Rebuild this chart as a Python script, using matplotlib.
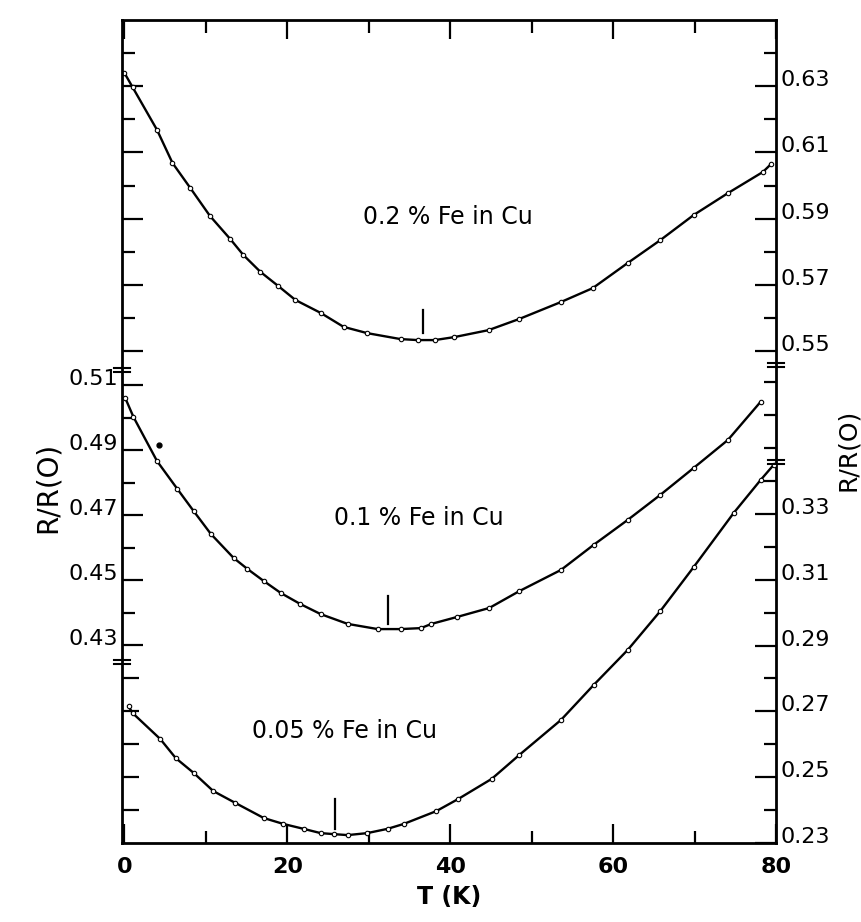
import matplotlib
matplotlib.use("Agg")
import matplotlib.pyplot as plt

# values: T in K, R/R(0) on each curve's own scale
t_02 = [0.0, 1.0, 4.0, 5.9, 8.1, 10.5, 13.0, 14.6, 16.7, 18.9, 21.0, 24.1, 26.9, 29.8,
        33.9, 36.0, 38.1, 40.5, 44.7, 48.5, 53.6, 57.5, 61.8, 65.8, 69.9, 74.1, 78.4, 79.4]
r_02 = [0.634, 0.6297, 0.6168, 0.6068, 0.5992, 0.5908, 0.5838, 0.579, 0.5739, 0.5696,
        0.5654, 0.5615, 0.5573, 0.5554, 0.5536, 0.5533, 0.5533, 0.5542, 0.5563, 0.5597,
        0.5648, 0.569, 0.5766, 0.5835, 0.5911, 0.5977, 0.6041, 0.6065]

t_01 = [0.1, 1.1, 4.0, 6.5, 8.5, 10.6, 13.4, 15.1, 17.1, 19.2, 21.6, 24.1, 27.4, 31.1,
        33.9, 36.4, 37.7, 40.8, 44.8, 48.5, 53.6, 57.6, 61.8, 65.8, 69.9, 74.1, 78.1]
r_01 = [0.506, 0.5002, 0.4866, 0.478, 0.4712, 0.4642, 0.4568, 0.4534, 0.4497, 0.446,
        0.4426, 0.4395, 0.4365, 0.4349, 0.4349, 0.4352, 0.4365, 0.4386, 0.4414, 0.4466,
        0.4531, 0.4608, 0.4685, 0.4762, 0.4845, 0.4931, 0.5048]
t_01_stray = [4.3]
r_01_stray = [0.4915]

t_005 = [0.5, 1.0, 4.4, 6.3, 8.5, 10.9, 13.6, 17.1, 19.5, 22.0, 24.1, 25.7, 27.4, 29.8,
         32.3, 34.3, 38.3, 41.0, 45.1, 48.5, 53.6, 57.6, 61.8, 65.8, 69.9, 74.8, 78.1, 79.7]
r_005 = [0.2716, 0.2695, 0.2616, 0.2558, 0.2513, 0.2458, 0.2422, 0.2376, 0.2358, 0.2343,
         0.233, 0.2327, 0.2324, 0.233, 0.2343, 0.2358, 0.2397, 0.2434, 0.2495, 0.2568,
         0.2674, 0.278, 0.2887, 0.3005, 0.3139, 0.3303, 0.3403, 0.3449]

# small vertical marks at the minima: T, low, high
min_02 = (36.7, 0.5554, 0.5624)
min_01 = (32.3, 0.4365, 0.4451)
min_005 = (25.9, 0.2343, 0.2434)

labels = ["0.2 % Fe in Cu", "0.1 % Fe in Cu", "0.05 % Fe in Cu"]

# axis ticks per scale
top_major = [0.55, 0.57, 0.59, 0.61, 0.63]
top_minor = [0.56, 0.58, 0.60, 0.62, 0.64]
mid_major = [0.43, 0.45, 0.47, 0.49, 0.51]
mid_minor = [0.44, 0.46, 0.48, 0.50]
bot_major = [0.23, 0.25, 0.27, 0.29, 0.31, 0.33]
bot_minor = [0.24, 0.26, 0.28, 0.30, 0.32, 0.34, 0.35, 0.36, 0.37]
bot_left = [0.24, 0.25, 0.26, 0.27, 0.28]

# axis breaks (scale values)
brk_mid = [0.5146, 0.4248]
brk_top = [0.5458]
brk_bot = [0.3458]

fig = plt.figure(figsize=(8.62, 9.22), dpi=100)
rect = [122 / 862, 79 / 922, 654 / 862, 823 / 922]
ax = fig.add_axes(rect)
ax_mid = fig.add_axes(rect)
ax_bot = fig.add_axes(rect)

for a in (ax, ax_mid, ax_bot):
    a.set_xlim(-0.3, 80)
ax.set_ylim(0.40136, 0.65)
ax_mid.set_ylim(0.36908, 0.62231)
ax_bot.set_ylim(0.23, 0.48015)

for a in (ax_mid, ax_bot):
    a.patch.set_visible(False)
    for s in a.spines.values():
        s.set_visible(False)
    a.set_xticks([])

for s in ax.spines.values():
    s.set_linewidth(2.0)

lw = 1.7
mk = dict(marker="o", ms=3.2, mfc="white", mec="black", mew=0.8)
ax.plot(t_02, r_02, "-", color="black", lw=lw, **mk)
ax_mid.plot(t_01, r_01, "-", color="black", lw=lw, **mk)
ax_mid.plot(t_01_stray, r_01_stray, "o", color="black", ms=3.5)
ax_bot.plot(t_005, r_005, "-", color="black", lw=lw, **mk)

for a, m in ((ax, min_02), (ax_mid, min_01), (ax_bot, min_005)):
    a.plot([m[0], m[0]], [m[1], m[2]], color="black", lw=1.6)

fs_txt = 17
ax.text(39.7, 0.5905, labels[0], ha="center", va="center", fontsize=fs_txt)
ax_mid.text(36.2, 0.469, labels[1], ha="center", va="center", fontsize=fs_txt)
ax_bot.text(27.0, 0.264, labels[2], ha="center", va="center", fontsize=fs_txt)

# x axis
ax.set_xticks([0, 20, 40, 60, 80])
ax.set_xticks([10, 30, 50, 70], minor=True)
ax.tick_params(axis="x", which="both", direction="in", top=True, bottom=True,
               width=1.6, labelsize=16, pad=10)
ax.tick_params(axis="x", which="major", length=14)
ax.tick_params(axis="x", which="minor", length=9)
plt.setp(ax.get_xticklabels(), fontweight="bold")
ax.set_xlabel("T (K)", fontsize=17, fontweight="bold", labelpad=6)

# top scale: ticks both sides, labels on the right
ax.set_yticks(top_major)
ax.set_yticks(top_minor, minor=True)
ax.set_yticklabels([f"{v:.2f}" for v in top_major])
ax.tick_params(axis="y", which="both", direction="in", left=True, right=True,
               labelleft=False, labelright=True, width=1.6, labelsize=16, pad=3)
ax.tick_params(axis="y", which="major", length=15)
ax.tick_params(axis="y", which="minor", length=9)

# middle scale: left side
ax_mid.set_yticks(mid_major)
ax_mid.set_yticks(mid_minor, minor=True)
ax_mid.set_yticklabels([f"{v:.2f}" for v in mid_major])
ax_mid.tick_params(axis="y", which="both", direction="in", left=True, right=False,
                   labelleft=True, width=1.6, labelsize=16, pad=3)
ax_mid.tick_params(axis="y", which="major", length=15)
ax_mid.tick_params(axis="y", which="minor", length=9)

# bottom scale: labels on the right, plain ticks on the left
ax_bot.yaxis.tick_right()
ax_bot.set_yticks(bot_major)
ax_bot.set_yticks(bot_minor, minor=True)
ax_bot.set_yticklabels([f"{v:.2f}" for v in bot_major])
ax_bot.tick_params(axis="y", which="both", direction="in", left=False, right=True,
                   labelleft=False, labelright=True, width=1.6, labelsize=16, pad=3)
ax_bot.tick_params(axis="y", which="major", length=15)
ax_bot.tick_params(axis="y", which="minor", length=9)
sec = ax_bot.secondary_yaxis("left")
sec.spines["left"].set_visible(False)
sec.set_yticks(bot_left)
sec.set_yticklabels([])
sec.tick_params(direction="in", length=12, width=1.6)

for a in (ax, ax_mid, ax_bot):
    plt.setp(a.get_yticklabels(), va="baseline")

# break marks on the spines
for a, ys, x0 in ((ax_mid, brk_mid, -0.3), (ax, brk_top, 80), (ax_bot, brk_bot, 80)):
    for y in ys:
        d = 0.0007
        a.plot([x0 - 1.0, x0 + 1.0], [y - d, y - d], color="black", lw=1.5, clip_on=False)
        a.plot([x0 - 1.0, x0 + 1.0], [y + d, y + d], color="black", lw=1.5, clip_on=False)

fig.text(48 / 862, 1 - 487 / 922, "R/R(O)", rotation=90, ha="center", va="center", fontsize=20)
fig.text(860 / 862, 1 - 450 / 922, "R/R(O)", rotation=90, ha="right", va="center", fontsize=18)

fig.savefig("out.png", dpi=100)
